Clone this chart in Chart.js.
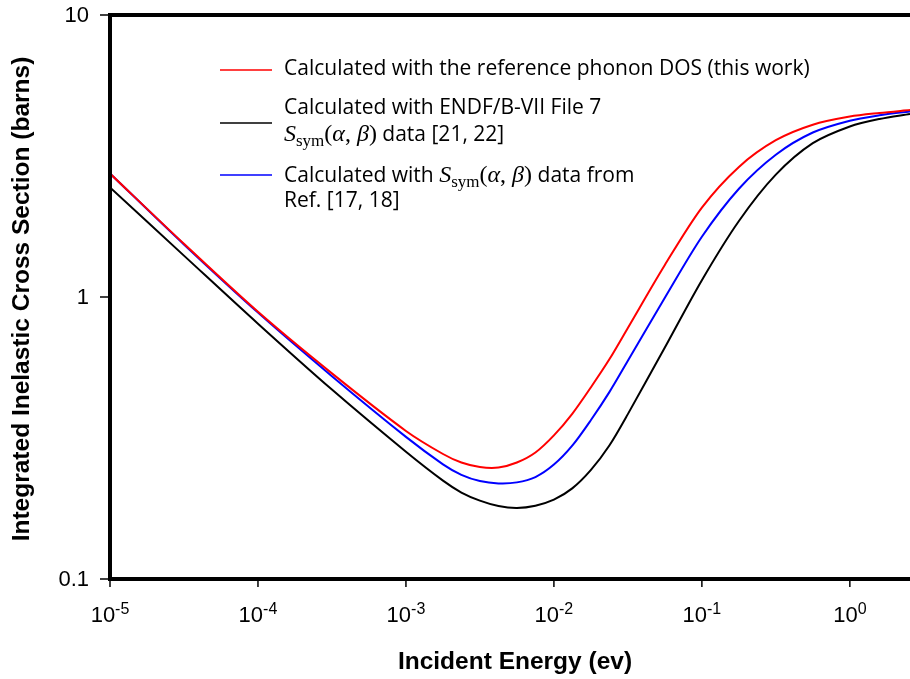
<!DOCTYPE html>
<html>
<head>
<meta charset="utf-8">
<script src="https://cdn.jsdelivr.net/npm/chart.js@4.4.0/dist/chart.umd.min.js"></script>
<style>
  html, body { margin: 0; padding: 0; background: #fff; }
  #wrap { width: 910px; height: 679px; }
</style>
</head>
<body>
<div id="wrap"><canvas id="xsChart" width="910" height="679"></canvas></div>
<script>
// incident energy (eV) and integrated inelastic cross sections (barns)
const energy = [1e-5, 3.16e-5, 1e-4, 3.16e-4, 1e-3, 1.78e-3, 2.37e-3, 3.16e-3, 4.22e-3, 5.62e-3,
                7.5e-3, 1e-2, 1.33e-2, 1.78e-2, 2.37e-2, 3.16e-2, 5.62e-2, 0.1, 0.178, 0.316,
                0.562, 1, 1.585, 2.55];
const sigmaThisWork = [2.741, 1.544, 0.886, 0.536, 0.335, 0.2775, 0.2588, 0.2495, 0.2485, 0.2588,
                       0.2809, 0.323, 0.3852, 0.4788, 0.6012, 0.777, 1.299, 2.075, 2.893, 3.597,
                       4.083, 4.362, 4.493, 4.604];
const sigmaEndf = [2.445, 1.402, 0.804, 0.4695, 0.2826, 0.2232, 0.2026, 0.1897, 0.1815, 0.1787,
                   0.182, 0.1912, 0.2096, 0.2438, 0.2974, 0.3843, 0.662, 1.147, 1.860, 2.715,
                   3.511, 4.024, 4.278, 4.460];
const sigmaRef17 = [2.741, 1.536, 0.8805, 0.5237, 0.3191, 0.2551, 0.2341, 0.2225, 0.2183, 0.2201,
                    0.2299, 0.2545, 0.297, 0.3663, 0.46, 0.5943, 0.9935, 1.635, 2.421, 3.196,
                    3.831, 4.219, 4.408, 4.551];

const xTickExps = [-5, -4, -3, -2, -1, 0];
const yTicks = [0.1, 1, 10];
const yTickLabels = ['0.1', '1', '10'];

const seriesColors = ['#ff0000', '#000000', '#0000ff'];

function pts(ys) {
    return energy.map((e, i) => ({ x: e, y: ys[i] }));
}

const LEG_FAMILY = '"Open Sans", Lato, sans-serif';
let LEG_FONT = '19.5px ' + LEG_FAMILY;
const MATH_IT = 'italic 24px "Liberation Serif", "DejaVu Serif", serif';
const MATH_RM = '24px "Liberation Serif", "DejaVu Serif", serif';
const MATH_SUB = '17px "Liberation Serif", "DejaVu Serif", serif';

// fit the legend font so the first entry is as wide as in the figure (~526px)
(function fitLegendFont() {
    const c = document.createElement('canvas').getContext('2d');
    c.font = '20px ' + LEG_FAMILY;
    const w = c.measureText('Calculated with the reference phonon DOS (this work)').width;
    LEG_FONT = (20 * 526 / w).toFixed(2) + 'px ' + LEG_FAMILY;
})();

function ssym() {
    return [
        { t: 'S', f: MATH_IT },
        { t: 'sym', f: MATH_SUB, dy: 5 },
        { t: '(', f: MATH_RM },
        { t: 'α', f: MATH_IT },
        { t: ', ', f: MATH_RM },
        { t: 'β', f: MATH_IT },
        { t: ')', f: MATH_RM }
    ];
}

function legendItems() {
    return [
        { color: seriesColors[0], lineY: 70, rows: [
            { y: 75, parts: [{ t: 'Calculated with the reference phonon DOS (this work)', f: LEG_FONT }] }
        ] },
        { color: seriesColors[1], lineY: 123, rows: [
            { y: 114, parts: [{ t: 'Calculated with ENDF/B-VII File 7', f: LEG_FONT }] },
            { y: 141, parts: ssym().concat([{ t: ' data [21, 22]', f: LEG_FONT }]) }
        ] },
        { color: seriesColors[2], lineY: 175, rows: [
            { y: 182, parts: [{ t: 'Calculated with ', f: LEG_FONT }].concat(ssym(), [{ t: ' data from', f: LEG_FONT }]) },
            { y: 207, parts: [{ t: 'Ref. [17, 18]', f: LEG_FONT }] }
        ] }
    ];
}

function drawRich(ctx, x, y, parts) {
    parts.forEach(p => {
        ctx.font = p.f;
        ctx.fillText(p.t, x, y + (p.dy || 0));
        x += ctx.measureText(p.t).width;
    });
}

const TICK_FONT = '22px "Liberation Sans", Arial, sans-serif';
const SUP_FONT = '16px "Liberation Sans", Arial, sans-serif';
const TITLE_FONT = 'bold 24.5px "Liberation Sans", Arial, sans-serif';

const axesPlugin = {
    id: 'axesPlugin',
    afterDraw(chart) {
        const ctx = chart.ctx;
        const a = chart.chartArea;
        const xs = chart.scales.x;
        const ys = chart.scales.y;
        ctx.save();
        ctx.fillStyle = '#000';
        ctx.strokeStyle = '#000';

        // frame: top, left, bottom (right side runs off the figure)
        ctx.lineWidth = 4;
        ctx.beginPath();
        ctx.moveTo(a.right + 2, a.top);
        ctx.lineTo(a.left, a.top);
        ctx.lineTo(a.left, a.bottom);
        ctx.lineTo(a.right + 2, a.bottom);
        ctx.stroke();

        // y ticks
        ctx.lineWidth = 1.5;
        ctx.font = TICK_FONT;
        ctx.textAlign = 'right';
        ctx.textBaseline = 'middle';
        yTicks.forEach((v, i) => {
            const py = ys.getPixelForValue(v);
            ctx.beginPath();
            ctx.moveTo(a.left - 10, py);
            ctx.lineTo(a.left, py);
            ctx.stroke();
            ctx.fillText(yTickLabels[i], a.left - 21, py + 1);
        });

        // x ticks, labels as 10 with superscript exponent
        ctx.textBaseline = 'alphabetic';
        ctx.textAlign = 'left';
        xTickExps.forEach(ex => {
            const px = xs.getPixelForValue(Math.pow(10, ex));
            ctx.beginPath();
            ctx.moveTo(px, a.bottom);
            ctx.lineTo(px, a.bottom + 8);
            ctx.stroke();
            const base = '10';
            const sup = ex < 0 ? '-' + Math.abs(ex) : String(ex);
            ctx.font = TICK_FONT;
            const wb = ctx.measureText(base).width;
            ctx.font = SUP_FONT;
            const ws = ctx.measureText(sup).width;
            const x0 = px - (wb + ws) / 2;
            ctx.font = TICK_FONT;
            ctx.fillText(base, x0, 622);
            ctx.font = SUP_FONT;
            ctx.fillText(sup, x0 + wb, 614);
        });

        // axis titles
        ctx.font = TITLE_FONT;
        ctx.textAlign = 'center';
        ctx.textBaseline = 'middle';
        ctx.fillText('Incident Energy (ev)', 515, 662);
        ctx.save();
        ctx.translate(22, 299);
        ctx.rotate(-Math.PI / 2);
        ctx.fillText('Integrated Inelastic Cross Section (barns)', 0, 0);
        ctx.restore();

        // legend
        ctx.textAlign = 'left';
        ctx.textBaseline = 'alphabetic';
        legendItems().forEach(item => {
            ctx.strokeStyle = item.color;
            ctx.lineWidth = 1.5;
            ctx.beginPath();
            ctx.moveTo(220, item.lineY);
            ctx.lineTo(272, item.lineY);
            ctx.stroke();
            ctx.fillStyle = '#000';
            item.rows.forEach(r => drawRich(ctx, 284, r.y, r.parts));
        });
        ctx.restore();
    }
};

const ctx = document.getElementById('xsChart').getContext('2d');
new Chart(ctx, {
    type: 'scatter',
    data: {
        datasets: [
            { label: 'this work', data: pts(sigmaThisWork), borderColor: seriesColors[0] },
            { label: 'ENDF/B-VII', data: pts(sigmaEndf), borderColor: seriesColors[1] },
            { label: 'Ref. [17, 18]', data: pts(sigmaRef17), borderColor: seriesColors[2] }
        ].map(d => Object.assign(d, {
            showLine: true,
            borderWidth: 2,
            pointRadius: 0,
            tension: 0.3,
            fill: false
        }))
    },
    options: {
        responsive: false,
        animation: false,
        devicePixelRatio: 1,
        layout: { padding: { left: 110, top: 15, right: 0, bottom: 100 } },
        plugins: { legend: { display: false }, tooltip: { enabled: false } },
        scales: {
            x: { type: 'logarithmic', min: 1e-5, max: 2.55, display: false },
            y: { type: 'logarithmic', min: 0.1, max: 10, display: false }
        }
    },
    plugins: [axesPlugin]
});
</script>
</body>
</html>
